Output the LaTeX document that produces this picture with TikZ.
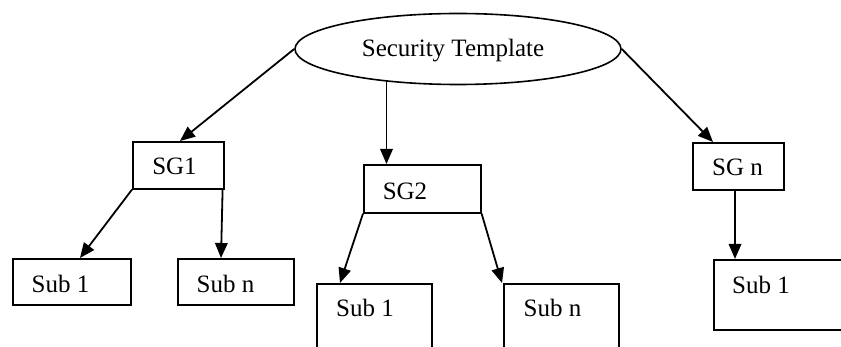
\documentclass[tikz,border=0pt]{standalone}
\usepackage{fontspec}
\setmainfont{Liberation Serif}
\usetikzlibrary{shapes.geometric,arrows.meta,calc}
\begin{document}
\begin{tikzpicture}[x=1pt,y=-1pt,
  box/.style={draw,line width=1.6pt,inner sep=0pt,anchor=north west},
  lbl/.style={inner sep=0pt,anchor=base,font=\fontsize{25}{30}\selectfont},
  link/.style={line width=1.8pt,-{Triangle[length=15pt,width=12.5pt]}}]
\useasboundingbox (0,0) rectangle (841,347);
\clip (0,0) rectangle (841,347);

% root template
\node[draw,ellipse,line width=1.6pt,minimum width=326pt,minimum height=71pt,inner sep=0pt] (st) at (458,49) {};
\node[lbl] (stl) at (453,57) {Security Template};

% security groups
\node[box,minimum width=91pt,minimum height=47pt] (sg1) at (132,141) {};
\node[lbl] (sg1l) at (174.5,175) {SG1};
\node[box,minimum width=117pt,minimum height=48pt] (sg2) at (363,164) {};
\node[lbl] (sg2l) at (405,199.5) {SG2};
\node[box,minimum width=91pt,minimum height=47pt] (sgn) at (692,142) {};
\node[lbl] (sgnl) at (737.5,176) {SG n};

% subgroups
\node[box,minimum width=118pt,minimum height=46pt] (sa1) at (12,258) {};
\node[lbl] (sa1l) at (60.5,292.5) {Sub 1};
\node[box,minimum width=116pt,minimum height=46pt] (san) at (177,258) {};
\node[lbl] (sanl) at (225.5,292.5) {Sub n};
\node[box,minimum width=115pt,minimum height=80pt] (sb1) at (316,283) {};
\node[lbl] (sb1l) at (365,317) {Sub 1};
\node[box,minimum width=115pt,minimum height=80pt] (sbn) at (503,283) {};
\node[lbl] (sbnl) at (552.5,317) {Sub n};
\node[box,minimum width=140pt,minimum height=70pt] (sc1) at (713,259) {};
\node[lbl] (sc1l) at (761,294) {Sub 1};

% links from the template
\coordinate (mid) at (386.5,81);
\draw[link] (st.west) -- ($(sg1.north west)+(48,0)$);
\draw[link] (mid) -- (mid |- sg2.north);
\draw[link] (st.east) -- ($(sgn.north west)+(21,0)$);

% links to subgroups
\draw[link] (sg1.south west) -- ($(sa1.north west)+(68,0)$);
\draw[link] ($(sg1.south east)+(-2,0)$) -- ($(san.north west)+(44,0)$);
\draw[link] (sg2.south west) -- ($(sb1.north west)+(24,0)$);
\draw[link] (sg2.south east) -- ($(sbn.north west)+(-1,0)$);
\draw[link] ($(sgn.north west)+(43,47)$) -- ($(sc1.north west)+(22,0)$);
\end{tikzpicture}
\end{document}
